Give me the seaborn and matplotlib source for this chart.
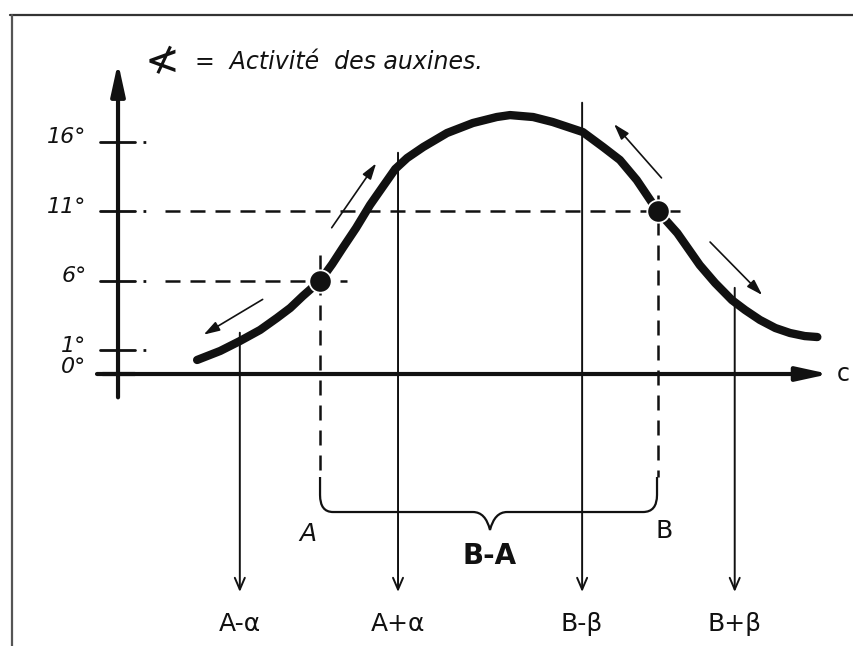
import matplotlib
matplotlib.use("Agg")
import matplotlib.pyplot as plt
from matplotlib.path import Path
from matplotlib.patches import PathPatch
from matplotlib.lines import Line2D
import pandas as pd
import seaborn as sns

# courbe : activité des auxines en fonction de c (degrés)
c_courbe = [1.13, 1.46, 1.74, 2.03, 2.27, 2.46, 2.64, 2.89, 3.06, 3.21, 3.40, 3.60,
            3.79, 3.96, 4.13, 4.36, 4.70, 5.07, 5.41, 5.60, 5.93, 6.21, 6.64, 6.93, 7.17,
            7.41, 7.71, 7.99, 8.31, 8.53, 8.77, 8.96, 9.17, 9.39, 9.60, 9.81, 9.99]
deg_courbe = [0.29, 0.94, 1.65, 2.45, 3.31, 4.03, 4.89, 6.0, 7.19, 8.35, 9.78, 11.44,
              12.81, 14.03, 14.82, 15.61, 16.62, 17.34, 17.77, 17.91, 17.77, 17.41, 16.69, 15.61, 14.68,
              13.24, 11.0, 9.42, 7.12, 5.83, 4.60, 3.88, 3.17, 2.59, 2.23, 2.01, 1.94]

# points A et B
points_nom = ["A", "B"]
points_c = [2.89, 7.71]
points_deg = [6, 11]

# graduations de l'axe vertical
niveaux = [16, 11, 6, 1]
niveaux_txt = ["16°", "11°", "6°", "1°"]

# flèches verticales vers le bas
marques_c = [1.74, 4.0, 6.63, 8.81]
marques_haut = [2.45, 15.4, 19.0, 5.68]
marques_txt = ["A-α", "A+α", "B-β", "B+β"]

df = pd.DataFrame({"c": c_courbe, "deg": deg_courbe})
dfp = pd.DataFrame({"c": points_c, "deg": points_deg, "nom": points_nom})

sns.set_theme(style="white")
plt.rcParams["font.family"] = ["DejaVu Sans"]

fig = plt.figure(figsize=(8.54, 6.46), dpi=100)
ax = fig.add_axes([0, 0, 1, 1])
ax.set_xlim(-1.686, 10.514)
ax.set_ylim(-20.29, 26.19)
ax.axis("off")

noir = "#111111"
y_axe = -0.72
bas = -16.6

# cadre
fig.add_artist(Line2D([0.012, 1], [0.977, 0.977], transform=fig.transFigure, color="#333333", lw=1.6))
fig.add_artist(Line2D([0.014, 0.014], [0, 0.977], transform=fig.transFigure, color="#555555", lw=1.6))

# axes avec flèches
ax.annotate("", xy=(0, 21.9), xytext=(0, -2.6),
            arrowprops=dict(arrowstyle="-|>,head_length=1.6,head_width=0.35", lw=3, color=noir))
ax.annotate("", xy=(10.2, y_axe), xytext=(-0.26, y_axe),
            arrowprops=dict(arrowstyle="-|>,head_length=1.6,head_width=0.35", lw=3, color=noir))
ax.text(10.36, y_axe, "c", fontsize=17, va="center", ha="center", color=noir)

# graduations
for niv, txt in zip(niveaux, niveaux_txt):
    ax.plot([-0.26, 0.24], [niv, niv], color=noir, lw=2)
    ax.plot([0.36, 0.49], [niv, niv], color=noir, lw=2, ls=(0, (1, 3)))
    ax.text(-0.45, niv + 0.3, txt, fontsize=16, style="italic", ha="right", va="center", color=noir)
ax.plot([-0.3, 0.24], [y_axe, y_axe], color=noir, lw=3)
ax.text(-0.45, y_axe + 0.5, "0°", fontsize=16, style="italic", ha="right", va="center", color=noir)

# pointillés horizontaux vers A et B
ax.plot([0.67, 3.27], [points_deg[0], points_deg[0]], color=noir, lw=1.8, ls=(0, (6, 4)))
ax.plot([0.67, 8.03], [points_deg[1], points_deg[1]], color=noir, lw=1.8, ls=(0, (6, 4)))

# pointillés verticaux depuis A et B
ax.plot([points_c[0], points_c[0]], [7.84, -8.1], color=noir, lw=1.8, ls=(0, (6, 4)))
ax.plot([points_c[1], points_c[1]], [12.16, -8.1], color=noir, lw=1.8, ls=(0, (6, 4)))

# flèches verticales
for c, h, txt in zip(marques_c, marques_haut, marques_txt):
    ax.annotate("", xy=(c, bas), xytext=(c, h),
                arrowprops=dict(arrowstyle="->,head_length=0.7,head_width=0.3", lw=1.4, color=noir))
    ax.text(c, -18.7, txt, fontsize=18, ha="center", va="center", color=noir)

# courbe
sns.lineplot(data=df, x="c", y="deg", sort=False, color=noir, lw=6,
             solid_capstyle="round", solid_joinstyle="round", ax=ax, legend=False)
sns.scatterplot(data=dfp, x="c", y="deg", color=noir, s=260, zorder=5, ax=ax, legend=False)

# petites flèches le long de la courbe
fleches = [((2.10, 4.75), (1.19, 2.01)), ((3.03, 9.64), (3.71, 14.6)),
           ((7.79, 13.24), (7.06, 17.41)), ((8.43, 8.92), (9.23, 4.82))]
for depart, arrivee in fleches:
    ax.annotate("", xy=arrivee, xytext=depart,
                arrowprops=dict(arrowstyle="-|>,head_length=0.8,head_width=0.25", lw=1.2, color=noir))

# accolade B-A
verts = [(2.886, -8.13), (2.886, -9.42), (2.886, -10.65), (3.071, -10.65), (5.071, -10.65),
         (5.25, -10.65), (5.314, -11.94), (5.38, -10.65), (5.557, -10.65), (7.5, -10.65),
         (7.7, -10.65), (7.7, -9.42), (7.7, -8.13)]
codes = [Path.MOVETO, Path.LINETO, Path.CURVE3, Path.CURVE3, Path.LINETO,
         Path.CURVE3, Path.CURVE3, Path.CURVE3, Path.CURVE3, Path.LINETO,
         Path.CURVE3, Path.CURVE3, Path.LINETO]
ax.add_patch(PathPatch(Path(verts, codes), fill=False, lw=1.6, color=noir))
ax.text(2.71, -12.2, "A", fontsize=18, style="italic", ha="center", va="center", color=noir)
ax.text(7.8, -12.0, "B", fontsize=18, ha="center", va="center", color=noir)
ax.text(5.31, -13.8, "B-A", fontsize=20, fontweight="bold", ha="center", va="center", color=noir)

# légende
ax.text(0.63, 21.7, "≮", fontsize=30, ha="center", va="center", color=noir)
ax.text(1.1, 21.7, "=  Activité  des auxines.", fontsize=17, style="italic",
        ha="left", va="center", color=noir)

fig.savefig("out.png", dpi=100)
